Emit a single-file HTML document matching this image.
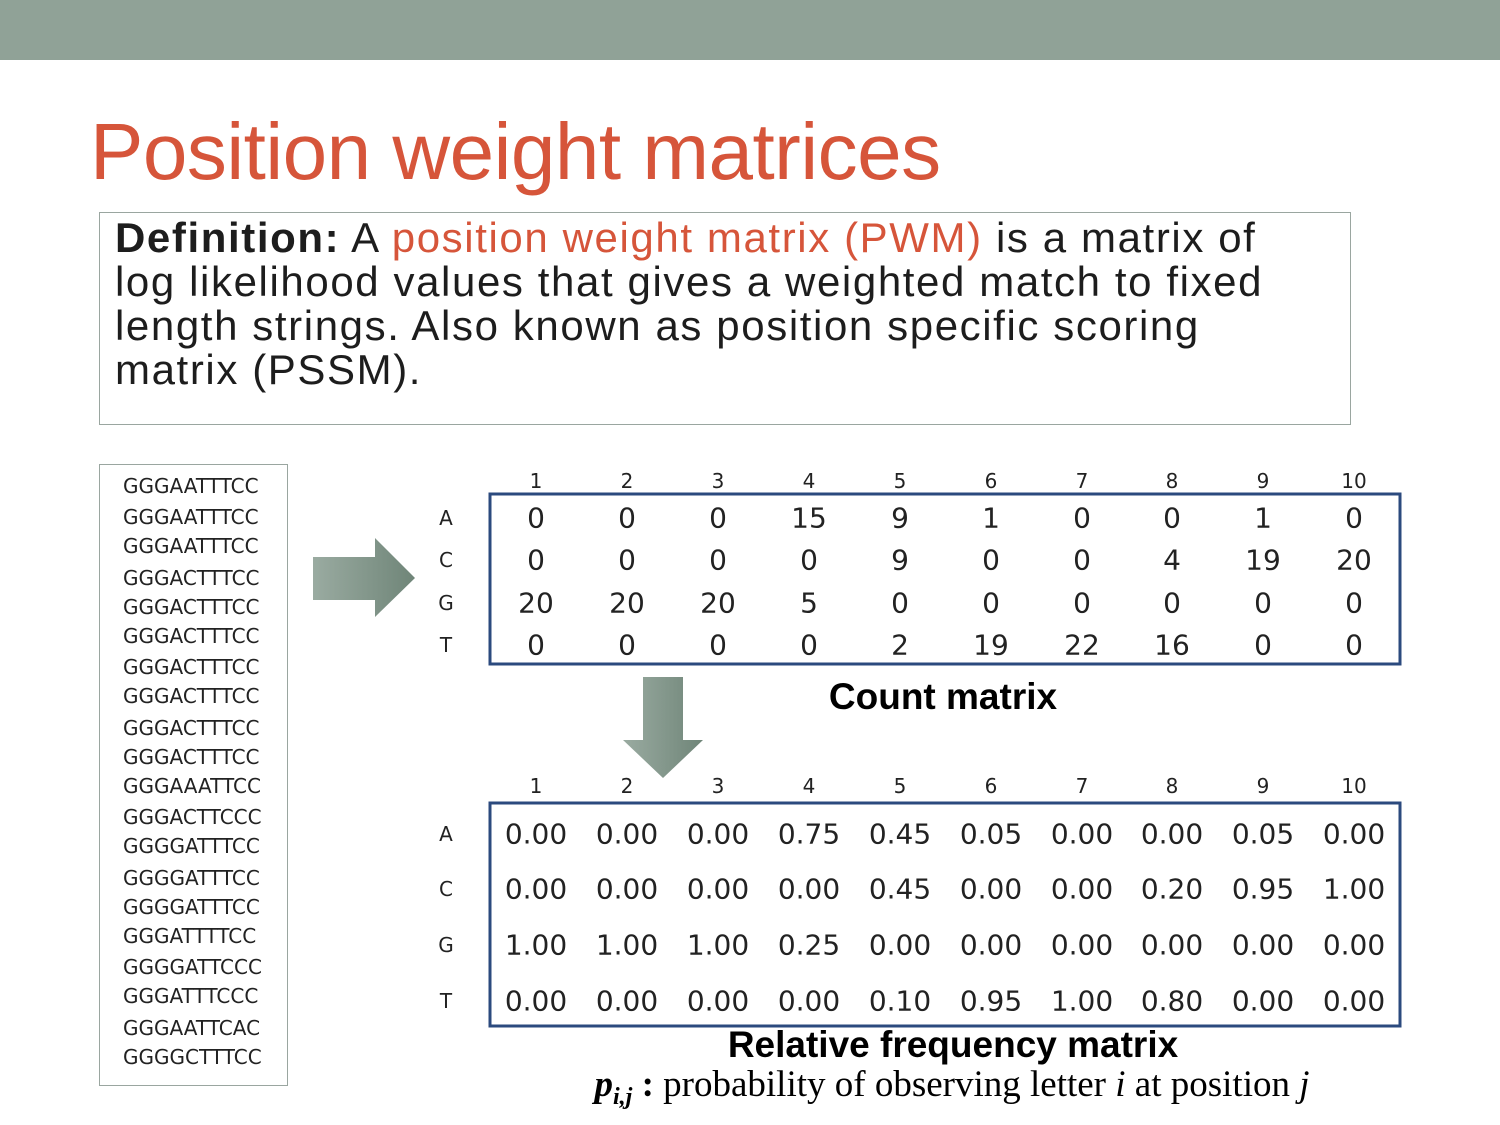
<!DOCTYPE html>
<html><head><meta charset="utf-8"><style>
body{margin:0;width:1500px;height:1125px;background:#fff;position:relative;overflow:hidden;font-family:"Liberation Sans",sans-serif}
.a{position:absolute;white-space:nowrap}
.c{transform:translate(-50%,-50%)}
.dv{font-family:"DejaVu Sans",sans-serif;color:#222}
</style></head><body>
<div class="a" style="left:0;top:0;width:1500px;height:60px;background:#90a297"></div>
<div class="a" style="left:90px;top:106px;font-size:80px;color:#d6553a;letter-spacing:-0.5px">Position weight matrices</div>
<div class="a" style="left:99px;top:212px;width:1250px;height:211px;border:1.5px solid #9aa6a0"></div>
<div class="a" style="left:115px;top:216px;font-size:42px;line-height:44px;color:#1d1d1d;white-space:normal;width:1230px;letter-spacing:1.6px"><b>Definition:</b> A <span style="color:#d6553a">position weight matrix (PWM)</span> is a matrix of<br>log likelihood values that gives a weighted match to fixed<br>length strings. Also known as position specific scoring<br>matrix (PSSM).</div>
<div class="a" style="left:99px;top:464px;width:187px;height:620px;border:1.5px solid #9aa6a0"></div>
<div id="seq"></div>
<svg class="a" style="left:0;top:0" width="1500" height="1125">
<defs><linearGradient id="g" x1="0" x2="1"><stop offset="0" stop-color="#9aaba1"/><stop offset="1" stop-color="#6f8578"/></linearGradient></defs>
<polygon points="313,557 375,557 375,538 415,578 375,617 375,600 313,600" fill="url(#g)"/>
<polygon points="643,677 683,677 683,740 703,740 663,778 623,740 643,740" fill="url(#g)"/>
<rect x="490" y="494" width="910" height="170" fill="none" stroke="#2b4a7e" stroke-width="3"/>
<rect x="490" y="803" width="910" height="223" fill="none" stroke="#2b4a7e" stroke-width="3"/>
</svg>
<div id="m"></div>
<div class="a c" style="left:943px;top:697px;font-size:37px;font-weight:bold">Count matrix</div>
<div class="a c" style="left:953px;top:1045px;font-size:37px;font-weight:bold">Relative frequency matrix</div>
<div class="a c" style="left:952px;top:1087px;font-size:37px;font-family:'Liberation Serif',serif"><b><i>p<sub style="font-size:24px">i,j</sub></i> :</b> probability of observing letter <i>i</i> at position <i>j</i></div>
<script>
var s="GGGAATTTCC GGGAATTTCC GGGAATTTCC GGGACTTTCC GGGACTTTCC GGGACTTTCC GGGACTTTCC GGGACTTTCC GGGACTTTCC GGGACTTTCC GGGAAATTCC GGGACTTCCC GGGGATTTCC GGGGATTTCC GGGGATTTCC GGGATTTTCC GGGGATTCCC GGGATTTCCC GGGAATTCAC GGGGCTTTCC".split(" ");
var ys=[487,518,547,579,608,637,668,697,729,758,787,818,847,879,908,937,968,997,1029,1058];
var h="";s.forEach((t,i)=>h+='<div class="a dv" style="left:123px;top:'+(ys[i]-13)+'px;font-size:20px">'+t+'</div>');
document.getElementById("seq").outerHTML=h;
var cx=[536,627,718,809,900,991,1082,1172,1263,1354];
var C=[[0,0,0,15,9,1,0,0,1,0],[0,0,0,0,9,0,0,4,19,20],[20,20,20,5,0,0,0,0,0,0],[0,0,0,0,2,19,22,16,0,0]];
var F=[["0.00","0.00","0.00","0.75","0.45","0.05","0.00","0.00","0.05","0.00"],["0.00","0.00","0.00","0.00","0.45","0.00","0.00","0.20","0.95","1.00"],["1.00","1.00","1.00","0.25","0.00","0.00","0.00","0.00","0.00","0.00"],["0.00","0.00","0.00","0.00","0.10","0.95","1.00","0.80","0.00","0.00"]];
var L="ACGT",r1=[518,560,603,645],r2=[834,889,945,1001];h="";
function d(x,y,t,f){h+='<div class="a c dv" style="left:'+x+'px;top:'+y+'px;font-size:'+f+'px">'+t+'</div>';}
cx.forEach((x,j)=>{d(x,481,j+1,20);d(x,786,j+1,20);});
for(var i=0;i<4;i++){d(446,r1[i],L[i],20);d(446,r2[i],L[i],20);cx.forEach((x,j)=>{d(x,r1[i],C[i][j],28);d(x,r2[i],F[i][j],28);});}
document.getElementById("m").outerHTML=h;
</script>
</body></html>
